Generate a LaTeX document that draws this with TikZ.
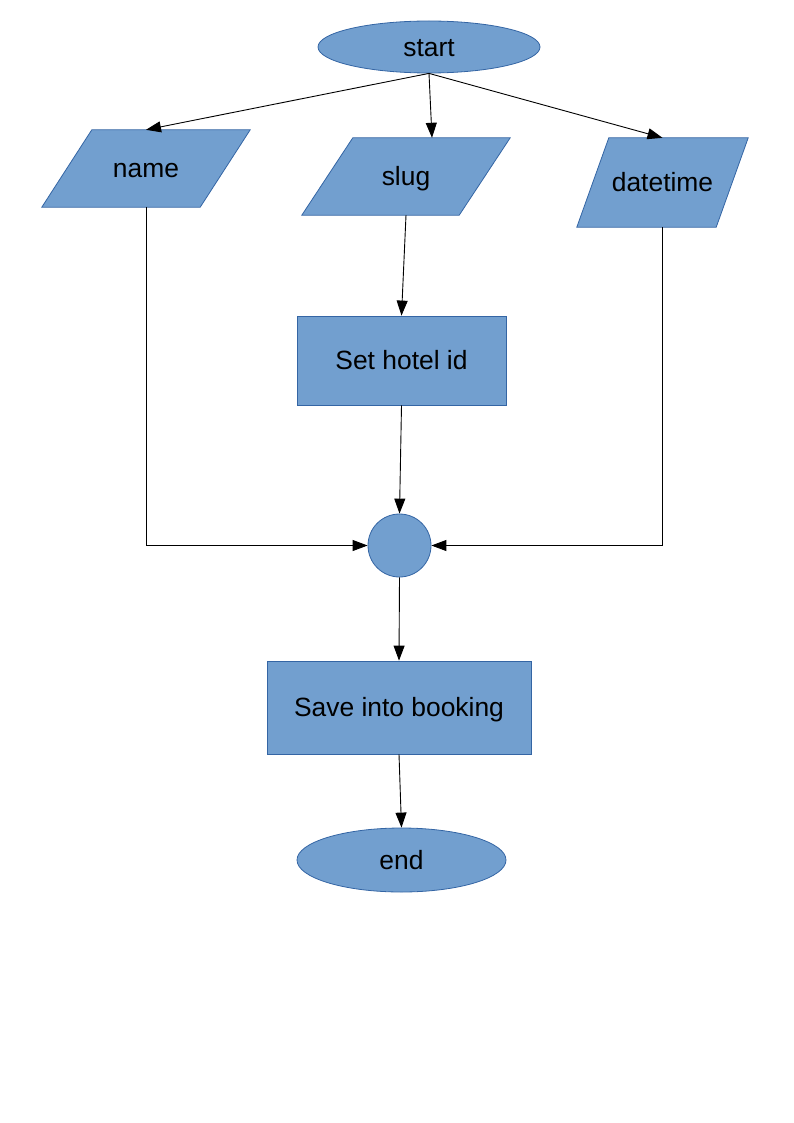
\documentclass[tikz,border=0pt]{standalone}
\usepackage{fontspec}
\setmainfont{Liberation Sans}
\usepackage{tikz}
\usetikzlibrary{arrows.meta,positioning,shapes.geometric,calc,backgrounds}
\definecolor{flowblue}{HTML}{729FCF}
\definecolor{flowedge}{HTML}{3465A4}

\tikzset{
  flowtext/.style={inner sep=0pt, font=\fontsize{26.4}{31}\selectfont,
    text height=23.9pt, text depth=5.6pt},
  flowfill/.style={flowtext, fill=flowblue, draw=flowedge, line width=0.8pt},
  termshape/.style={flowfill, ellipse},
  ioshape/.style={flowtext, rectangle},
  procbox/.style={flowfill, rectangle},
  joint/.style={flowfill, circle, minimum size=63pt},
  flowarrow/.style={-{Triangle[length=15pt, width=11pt]}, line width=0.9pt, black}
}
% parallelogram behind an input node: #1 node, #2 slant
\newcommand{\drawinput}[2]{%
  \draw[fill=flowblue, draw=flowedge, line width=0.8pt]
    ($(#1.north west)+(#2,0)$) -- (#1.north east) -- ($(#1.south east)-(#2,0)$)
    -- (#1.south west) -- cycle;}

\begin{document}
\begin{tikzpicture}[x=1pt, y=-1pt]
  \useasboundingbox (0,0) rectangle (794,1123);

  % Terminals
  \node[termshape, minimum width=222pt, minimum height=52pt] (start) at (429,47) {start};
  \node[termshape, minimum width=209pt, minimum height=64pt] (finish) at (401.5,860) {end};

  % Inputs
  \node[ioshape, minimum width=208pt, minimum height=77pt] (name) at (146,168.5) {name};
  \node[ioshape, minimum width=208pt, minimum height=77pt] (slug) at (406,176.5) {slug};
  \node[ioshape, minimum width=171pt, minimum height=89pt] (datetime) at (662.5,182.5) {datetime};
  \begin{scope}[on background layer]
    \drawinput{name}{50}
    \drawinput{slug}{51}
    \drawinput{datetime}{32}
  \end{scope}

  % Processes
  \node[procbox, minimum width=209pt, minimum height=89pt] (hotel) at (401.5,360.5) {Set hotel id};
  \node[joint] (merge) at (399.5,545.5) {};
  \node[procbox, minimum width=264pt, minimum height=93pt] (save) at (399,707.5) {Save into booking};

  % Connectors
  \draw[flowarrow] (start.south) -- (name.north);
  \draw[flowarrow] (start.south) -- ($(slug.north)+(26,0)$);
  \draw[flowarrow] (start.south) -- (datetime.north);
  \draw[flowarrow] (slug.south) -- (hotel.north);
  \draw[flowarrow] (hotel.south) -- (merge.north);
  \draw[flowarrow] (name.south) |- (merge.west);
  \draw[flowarrow] (datetime.south) |- (merge.east);
  \draw[flowarrow] (merge.south) -- (save.north);
  \draw[flowarrow] (save.south) -- (finish.north);
\end{tikzpicture}
\end{document}
